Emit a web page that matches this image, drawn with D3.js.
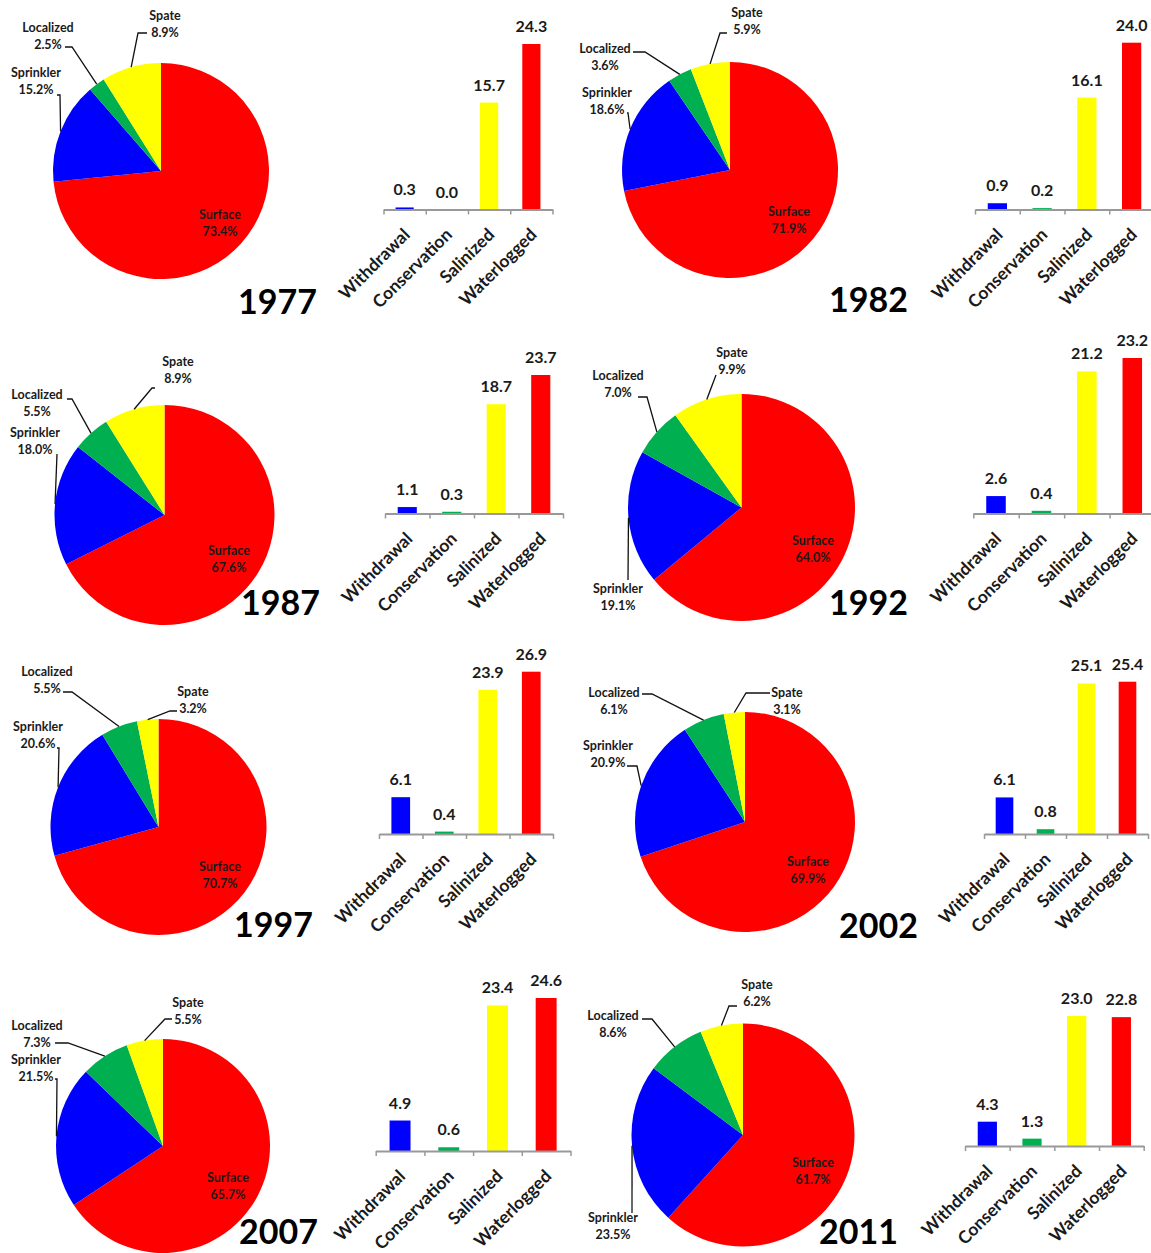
<!DOCTYPE html>
<html>
<head>
<meta charset="utf-8">
<script src="https://cdn.jsdelivr.net/npm/d3@7"></script>
<style>
  body { margin: 0; background: #fff; }
  svg { display: block; font-family: Lato, "Open Sans", sans-serif; }
</style>
</head>
<body>
<svg id="canvas" width="1151" height="1253"></svg>
<script>
// values
const years = ["1977", "1982", "1987", "1992", "1997", "2002", "2007", "2011"];

const pieCats = ["Surface", "Sprinkler", "Localized", "Spate"];
const surface   = [73.4, 71.9, 67.6, 64.0, 70.7, 69.9, 65.7, 61.7];
const sprinkler = [15.2, 18.6, 18.0, 19.1, 20.6, 20.9, 21.5, 23.5];
const localized = [2.5, 3.6, 5.5, 7.0, 5.5, 6.1, 7.3, 8.6];
const spate     = [8.9, 5.9, 8.9, 9.9, 3.2, 3.1, 5.5, 6.2];

const barCats = ["Withdrawal", "Conservation", "Salinized", "Waterlogged"];
const withdrawal   = [0.3, 0.9, 1.1, 2.6, 6.1, 6.1, 4.9, 4.3];
const conservation = [0.0, 0.2, 0.3, 0.4, 0.4, 0.8, 0.6, 1.3];
const salinized    = [15.7, 16.1, 18.7, 21.2, 23.9, 25.1, 23.4, 23.0];
const waterlogged  = [24.3, 24.0, 23.7, 23.2, 26.9, 25.4, 24.6, 22.8];

const pieColors = { Surface: "#ff0000", Sprinkler: "#0000ff", Localized: "#00b050", Spate: "#ffff00" };
const barColors = { Withdrawal: "#0000ff", Conservation: "#00b050", Salinized: "#ffff00", Waterlogged: "#ff0000" };

// where each panel sits on the page
const layout = [
  { cx: 161, cy: 171, r: 108, yearX: 317, yearY: 314, x0: 383.5, x1: 552.5, axisY: 209.5, top: 44,
    labels: { Surface: [220, 219], Spate: [165, 20, [147, 33], [138, 33]], Localized: [48, 32, [65, 47], [72, 47]], Sprinkler: [36, 77, [57, 95], [60, 95]] } },
  { cx: 730, cy: 170, r: 108, yearX: 908, yearY: 312, x0: 975, x1: 1154, axisY: 209.5, top: 42.7,
    labels: { Surface: [789, 216], Spate: [747, 17, [727, 33], [720, 33]], Localized: [605, 53, [633, 52], [645, 52]], Sprinkler: [607, 97, [627, 113], [628, 113]] } },
  { cx: 164.5, cy: 515, r: 110, yearX: 320, yearY: 615, x0: 385, x1: 563, axisY: 513.5, top: 375,
    labels: { Surface: [229, 555], Spate: [178, 366, [155, 388], [152, 388]], Localized: [37, 399, [67, 399], [72, 399]], Sprinkler: [35, 437, [57, 454], [57, 454]] } },
  { cx: 741.5, cy: 507.5, r: 113.5, yearX: 908, yearY: 615, x0: 973.3, x1: 1155, axisY: 513.5, top: 358,
    labels: { Surface: [813, 545], Spate: [732, 357, [716, 375], [716, 375]], Localized: [618, 380, [638, 397], [647, 397]], Sprinkler: [618, 593, [628, 580], [628, 580]] } },
  { cx: 158.5, cy: 827, r: 108, yearX: 313, yearY: 937, x0: 379, x1: 553, axisY: 834, top: 671.7,
    labels: { Surface: [220, 871], Localized: [47, 676, [63, 692], [72, 692]], Spate: [193, 696, [177, 711], [170, 711]], Sprinkler: [38, 731, [57, 748], [59, 748]] } },
  { cx: 745, cy: 822, r: 110, yearX: 918, yearY: 938, x0: 984, x1: 1148, axisY: 834, top: 681.7,
    labels: { Surface: [808, 866], Localized: [614, 697, [642, 694], [652, 694]], Spate: [787, 697, [770, 693], [746, 693]], Sprinkler: [608, 750, [627, 766], [637, 766]] } },
  { cx: 163, cy: 1146, r: 107, yearX: 318, yearY: 1244, x0: 375.7, x1: 570.5, axisY: 1151, top: 998,
    labels: { Surface: [228, 1182], Spate: [188, 1007, [172, 1019], [165, 1019]], Localized: [37, 1030, [55, 1043], [68, 1043]], Sprinkler: [36, 1064, [55, 1079], [57, 1079]] } },
  { cx: 743, cy: 1135, r: 111.5, yearX: 898, yearY: 1244, x0: 965, x1: 1143.7, axisY: 1146, top: 1016,
    labels: { Surface: [813, 1167], Spate: [757, 989, [737, 1006], [729, 1006]], Localized: [613, 1020, [642, 1019], [652, 1019]], Sprinkler: [613, 1222, [632, 1213], [632, 1213]] } }
];

const svg = d3.select("#canvas");
const pct = d => d3.format(".1f")(d) + "%";
const num = d3.format(".1f");

const pie = d3.pie().sort(null).value(d => d.value);

function twoLines(sel, x, y, a, b) {
  const t = sel.append("text")
    .attr("text-anchor", "middle")
    .attr("font-size", 12.5).attr("font-weight", "bold").attr("fill", "#1a1a1a");
  t.append("tspan").attr("x", x).attr("y", y).text(a);
  t.append("tspan").attr("x", x).attr("y", y + 16.5).text(b);
}

years.forEach(function(year, i) {
  const L = layout[i];
  const g = svg.append("g");

  // ---- pie ----
  const slices = pie([
    { cat: "Surface", value: surface[i] },
    { cat: "Sprinkler", value: sprinkler[i] },
    { cat: "Localized", value: localized[i] },
    { cat: "Spate", value: spate[i] }
  ]);

  const arc = d3.arc().innerRadius(0).outerRadius(L.r);
  const edge = d3.arc().innerRadius(L.r).outerRadius(L.r);

  g.append("g")
    .attr("transform", "translate(" + L.cx + "," + L.cy + ")")
    .selectAll("path")
    .data(slices)
    .enter().append("path")
      .attr("d", arc)
      .attr("fill", d => pieColors[d.data.cat]);

  // label inside the big slice
  const sl = L.labels.Surface;
  twoLines(g, sl[0], sl[1], slices[0].data.cat, pct(slices[0].value));

  // outside labels with leader lines
  slices.slice(1).forEach(function(s) {
    const lab = L.labels[s.data.cat];
    const p = edge.centroid(s);
    const end = [L.cx + p[0], L.cy + p[1]];
    g.append("path")
      .attr("d", d3.line()([lab[2], lab[3], end]))
      .attr("fill", "none")
      .attr("stroke", "#111")
      .attr("stroke-width", 1.3);
    twoLines(g, lab[0], lab[1], s.data.cat, pct(s.value));
  });

  // year
  g.append("text")
    .attr("x", L.yearX).attr("y", L.yearY)
    .attr("text-anchor", "end")
    .attr("font-size", 34).attr("font-weight", "bold").attr("fill", "#000")
    .text(year);

  // ---- bars ----
  const vals = [withdrawal[i], conservation[i], salinized[i], waterlogged[i]];
  const x = d3.scaleBand().domain(barCats).range([L.x0, L.x1]).paddingInner(0.57).paddingOuter(0.285);
  const y = d3.scaleLinear().domain([0, d3.max(vals)]).range([L.axisY, L.top]);

  g.selectAll("rect")
    .data(barCats)
    .enter().append("rect")
      .attr("x", d => x(d))
      .attr("width", x.bandwidth())
      .attr("y", (d, k) => y(vals[k]))
      .attr("height", (d, k) => L.axisY - y(vals[k]))
      .attr("fill", d => barColors[d]);

  g.selectAll(".val")
    .data(barCats)
    .enter().append("text")
      .attr("class", "val")
      .attr("x", d => x(d) + x.bandwidth() / 2)
      .attr("y", (d, k) => y(vals[k]) - 12)
      .attr("text-anchor", "middle")
      .attr("font-size", 16).attr("font-weight", "bold").attr("fill", "#1a1a1a")
      .text((d, k) => num(vals[k]));

  // axis with ticks between categories
  const bounds = d3.scaleLinear().domain([0, barCats.length]).range([L.x0, L.x1]);
  const ax = g.append("g")
    .attr("transform", "translate(0," + L.axisY + ")")
    .call(d3.axisBottom(bounds).tickValues(d3.range(barCats.length + 1)).tickFormat("").tickSize(5).tickSizeOuter(0));
  ax.select(".domain").attr("stroke", "#999").attr("stroke-width", 2);
  ax.selectAll(".tick line").attr("stroke", "#999").attr("stroke-width", 1.5);

  g.selectAll(".cat")
    .data(barCats)
    .enter().append("text")
      .attr("class", "cat")
      .attr("transform", d => "translate(" + (x(d) + x.bandwidth() / 2 + 2) + "," + (L.axisY + 22) + ") rotate(-45)")
      .attr("text-anchor", "end")
      .attr("dy", "0.35em")
      .attr("font-size", 17.5).attr("font-weight", "bold").attr("fill", "#1a1a1a")
      .text(d => d);
});
</script>
</body>
</html>
